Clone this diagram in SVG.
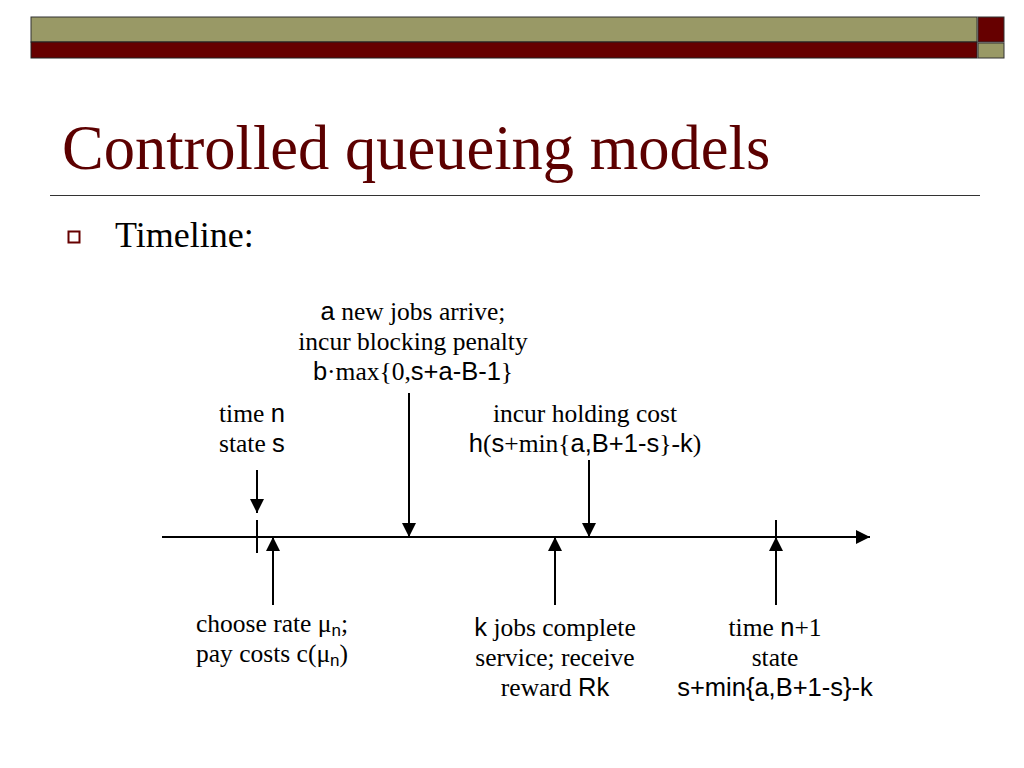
<svg xmlns="http://www.w3.org/2000/svg" width="1024" height="768" viewBox="0 0 1024 768">
<style>
.s{font-family:"Liberation Serif","Times New Roman",serif;font-size:25.5px;fill:#000}
.a{font-family:"Liberation Sans",Arial,sans-serif}
.ln{stroke:#000;stroke-width:2;fill:none}
</style>
<defs>
<marker id="ah" viewBox="0 0 14 14" refX="14" refY="7" markerWidth="14" markerHeight="14" markerUnits="userSpaceOnUse" orient="auto">
<path d="M0,0 L14,7 L0,14 Z" fill="#000"/>
</marker>
</defs>
<rect width="1024" height="768" fill="#fff"/>
<g id="header">
<rect x="31" y="17" width="946" height="25" fill="#999966" stroke="#333" stroke-width="1"/>
<rect x="31" y="42" width="946" height="16" fill="#660000" stroke="#222" stroke-width="1"/>
<rect x="978" y="17" width="26" height="25" fill="#660000" stroke="#333" stroke-width="1"/>
<rect x="978" y="43" width="26" height="15" fill="#999966" stroke="#333" stroke-width="1"/>
</g>
<text x="62" y="169" font-family="Liberation Serif,serif" font-size="62.5" fill="#5c0000">Controlled queueing models</text>
<line x1="50" y1="195.5" x2="980" y2="195.5" stroke="#333" stroke-width="1"/>
<rect x="68.5" y="231.5" width="11" height="11" fill="none" stroke="#660000" stroke-width="2"/>
<text x="115" y="247" font-family="Liberation Serif,serif" font-size="36" fill="#000">Timeline:</text>
<g id="connectors">
<line class="ln" x1="162" y1="537" x2="870" y2="537" marker-end="url(#ah)"/>
<line class="ln" x1="257" y1="520" x2="257" y2="553"/>
<line class="ln" x1="776" y1="520" x2="776" y2="553"/>
<line class="ln" x1="257" y1="470" x2="257" y2="513" marker-end="url(#ah)"/>
<line class="ln" x1="409" y1="393" x2="409" y2="537" marker-end="url(#ah)"/>
<line class="ln" x1="589" y1="460" x2="589" y2="537" marker-end="url(#ah)"/>
<line class="ln" x1="273" y1="605" x2="273" y2="537" marker-end="url(#ah)"/>
<line class="ln" x1="555" y1="605" x2="555" y2="537" marker-end="url(#ah)"/>
<line class="ln" x1="776" y1="605" x2="776" y2="537" marker-end="url(#ah)"/>
</g>
<g id="arrive" class="s" text-anchor="middle">
<text x="413" y="320"><tspan class="a">a</tspan> new jobs arrive;</text>
<text x="413" y="350">incur blocking penalty</text>
<text x="413" y="380"><tspan class="a">b</tspan>·max{0,<tspan class="a">s+a-B-1</tspan>}</text>
</g>
<g id="timen" class="s">
<text x="219" y="422">time <tspan class="a">n</tspan></text>
<text x="219" y="452">state <tspan class="a">s</tspan></text>
</g>
<g id="holding" class="s" text-anchor="middle">
<text x="585" y="422">incur holding cost</text>
<text x="585" y="452"><tspan class="a">h</tspan>(<tspan class="a">s</tspan>+min{<tspan class="a">a,B+1-s</tspan>}-<tspan class="a">k</tspan>)</text>
</g>
<g id="choose" class="s">
<text x="196" y="632">choose rate μ<tspan class="a" font-size="17" dy="4">n</tspan><tspan dy="-4">;</tspan></text>
<text x="196" y="662">pay costs c(μ<tspan class="a" font-size="17" dy="4">n</tspan><tspan dy="-4">)</tspan></text>
</g>
<g id="complete" class="s" text-anchor="middle">
<text x="555" y="636"><tspan class="a">k</tspan> jobs complete</text>
<text x="555" y="666">service; receive</text>
<text x="555" y="696">reward <tspan class="a">Rk</tspan></text>
</g>
<g id="timen1" class="s" text-anchor="middle">
<text x="775" y="636">time <tspan class="a">n</tspan>+1</text>
<text x="775" y="666">state</text>
<text x="775" y="696" class="a">s+min{a,B+1-s}-k</text>
</g>
</svg>
